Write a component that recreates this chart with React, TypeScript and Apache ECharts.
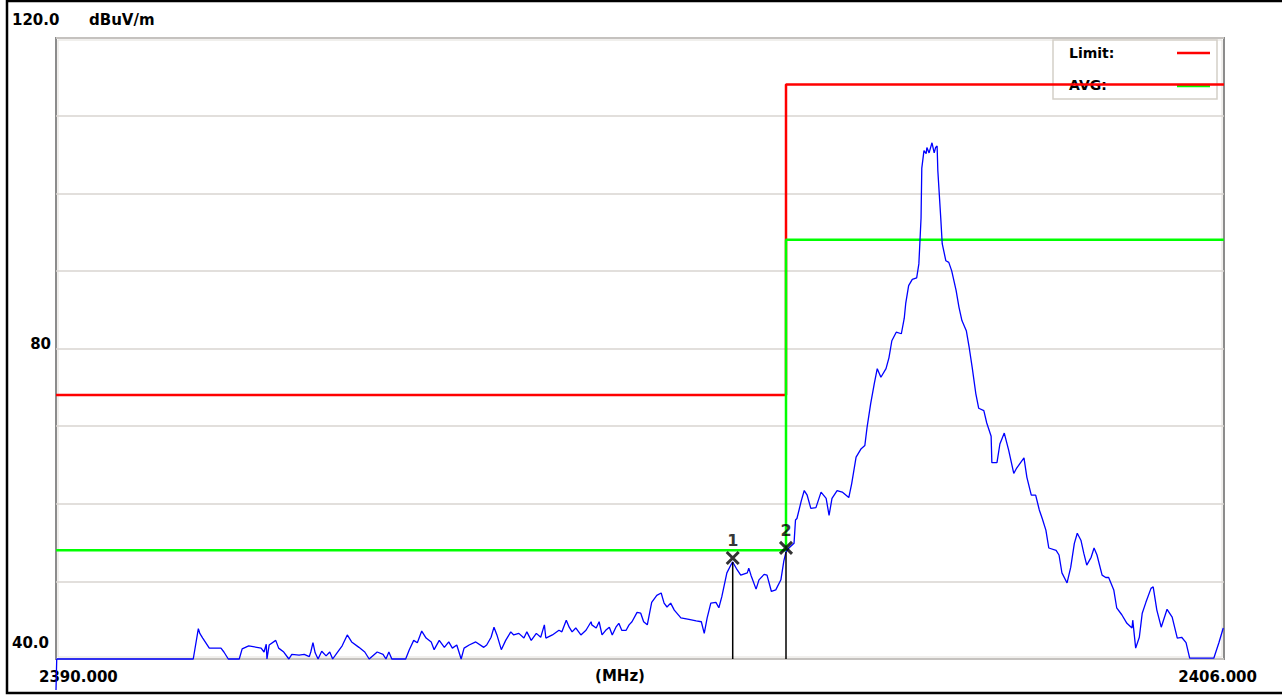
import React, { useEffect, useRef } from "react";
import * as echarts from "echarts";

// Measured trace (frequency in MHz, level in dBuV/m)
const traceFreq = [
  2390.00, 2390.01, 2391.88, 2391.95, 2391.97, 2392.01, 2392.10, 2392.26, 2392.30, 2392.36,
  2392.51, 2392.55, 2392.64, 2392.81, 2392.85, 2392.88, 2392.89, 2392.92, 2393.01, 2393.05,
  2393.12, 2393.19, 2393.23, 2393.33, 2393.40, 2393.47, 2393.49, 2393.52, 2393.55, 2393.59,
  2393.64, 2393.70, 2393.75, 2393.79, 2393.85, 2393.92, 2393.99, 2394.05, 2394.15, 2394.23,
  2394.29, 2394.40, 2394.48, 2394.52, 2394.56, 2394.60, 2394.79, 2394.84, 2394.90, 2394.95,
  2395.01, 2395.07, 2395.14, 2395.18, 2395.25, 2395.32, 2395.38, 2395.43, 2395.49, 2395.55,
  2395.59, 2395.66, 2395.75, 2395.86, 2395.90, 2395.96, 2396.00, 2396.04, 2396.10, 2396.16,
  2396.23, 2396.27, 2396.34, 2396.41, 2396.45, 2396.51, 2396.58, 2396.64, 2396.69, 2396.71,
  2396.80, 2396.89, 2396.93, 2396.99, 2397.03, 2397.07, 2397.12, 2397.19, 2397.26, 2397.33,
  2397.34, 2397.40, 2397.44, 2397.48, 2397.53, 2397.58, 2397.62, 2397.67, 2397.71, 2397.75,
  2397.81, 2397.85, 2397.89, 2397.96, 2398.01, 2398.05, 2398.10, 2398.16, 2398.23, 2398.29,
  2398.33, 2398.37, 2398.42, 2398.47, 2398.56, 2398.67, 2398.77, 2398.84, 2398.88, 2398.92,
  2398.97, 2399.04, 2399.08, 2399.12, 2399.19, 2399.25, 2399.27, 2399.33, 2399.38, 2399.47,
  2399.49, 2399.52, 2399.59, 2399.63, 2399.70, 2399.74, 2399.80, 2399.86, 2399.93, 2399.97,
  2400.00, 2400.04, 2400.11, 2400.13, 2400.15, 2400.21, 2400.25, 2400.29, 2400.34, 2400.41,
  2400.48, 2400.55, 2400.59, 2400.63, 2400.70, 2400.77, 2400.86, 2400.90, 2400.96, 2401.03,
  2401.08, 2401.11, 2401.16, 2401.21, 2401.25, 2401.30, 2401.37, 2401.41, 2401.45, 2401.51,
  2401.58, 2401.62, 2401.64, 2401.68, 2401.73, 2401.79, 2401.82, 2401.85, 2401.86, 2401.89,
  2401.92, 2401.93, 2401.96, 2402.00, 2402.03, 2402.05, 2402.07, 2402.08, 2402.12, 2402.14,
  2402.19, 2402.23, 2402.27, 2402.33, 2402.37, 2402.41, 2402.47, 2402.51, 2402.55, 2402.60,
  2402.64, 2402.71, 2402.75, 2402.81, 2402.82, 2402.89, 2402.93, 2402.99, 2403.05, 2403.12,
  2403.16, 2403.26, 2403.30, 2403.36, 2403.42, 2403.47, 2403.51, 2403.56, 2403.60, 2403.70,
  2403.74, 2403.78, 2403.85, 2403.90, 2403.95, 2403.99, 2404.04, 2404.08, 2404.12, 2404.18,
  2404.22, 2404.26, 2404.33, 2404.38, 2404.42, 2404.49, 2404.53, 2404.60, 2404.67, 2404.74,
  2404.75, 2404.79, 2404.84, 2404.88, 2404.93, 2405.00, 2405.03, 2405.08, 2405.14, 2405.22,
  2405.29, 2405.36, 2405.42, 2405.48, 2405.53, 2405.86, 2405.93, 2405.99,
];
const traceLevel = [
  36.0, 40.0, 40.0, 43.9, 43.3, 42.7, 41.4, 41.4, 40.9, 40.0,
  40.0, 41.3, 41.7, 41.4, 40.9, 41.9, 40.0, 41.8, 42.4, 41.4,
  40.9, 40.0, 40.6, 40.5, 40.6, 40.3, 40.9, 42.1, 40.8, 40.0,
  41.0, 40.4, 40.9, 40.0, 40.8, 41.7, 43.1, 42.2, 41.5, 40.9,
  40.0, 40.9, 40.6, 40.0, 40.9, 40.0, 40.0, 41.2, 42.4, 42.1,
  43.6, 42.7, 42.2, 41.2, 42.4, 41.5, 42.2, 41.4, 41.8, 40.0,
  41.4, 41.8, 42.2, 41.5, 41.8, 42.8, 44.1, 43.1, 41.2, 42.4,
  43.5, 43.1, 43.3, 42.7, 43.5, 42.4, 43.3, 42.8, 44.4, 42.7,
  43.1, 43.7, 43.5, 45.0, 44.1, 43.5, 44.0, 43.1, 43.7, 44.8,
  44.4, 44.0, 44.8, 43.1, 43.7, 44.1, 43.1, 44.1, 44.6, 43.7,
  43.7, 44.4, 44.8, 46.0, 45.9, 44.8, 44.4, 47.3, 48.2, 48.5,
  47.2, 46.7, 47.2, 46.3, 45.3, 45.1, 44.9, 44.8, 43.3, 45.3,
  47.2, 47.3, 46.6, 48.0, 51.1, 52.2, 52.5, 51.5, 50.8, 51.1,
  51.7, 50.8, 49.0, 50.2, 50.9, 50.8, 48.7, 48.9, 50.2, 52.6,
  53.8, 54.3, 54.9, 57.9, 58.1, 60.4, 61.7, 61.1, 59.4, 59.5,
  61.5, 60.7, 58.5, 60.7, 61.7, 61.5, 60.8, 62.6, 66.0, 67.1,
  67.5, 69.8, 72.9, 75.5, 77.4, 76.3, 77.4, 78.8, 81.0, 82.1,
  81.9, 83.9, 85.8, 88.1, 88.9, 89.1, 90.9, 96.8, 103.2, 105.5,
  105.1, 105.9, 105.2, 106.5, 105.2, 105.9, 106.1, 102.9, 96.8, 93.5,
  91.3, 91.1, 90.0, 87.5, 85.3, 83.6, 82.3, 80.1, 77.6, 74.2,
  72.3, 72.0, 70.4, 68.7, 65.3, 65.3, 67.7, 69.1, 66.9, 63.9,
  64.6, 65.9, 63.4, 61.1, 61.1, 59.2, 58.1, 56.6, 54.3, 54.0,
  53.4, 51.1, 49.8, 51.8, 54.9, 56.2, 55.3, 53.6, 52.1, 53.1,
  54.3, 53.4, 50.8, 50.5, 50.5, 48.9, 46.6, 45.7, 44.6, 44.0,
  45.0, 41.4, 42.8, 45.9, 47.3, 49.1, 49.3, 46.3, 44.1, 46.4,
  45.4, 42.7, 42.8, 42.1, 40.1, 40.1, 42.1, 44.0,
];

// Limit lines
const limitFreq = [2390, 2400, 2400, 2406];
const limitLevel = [74, 74, 114, 114];
const avgLevel = [54, 54, 94, 94];

// Markers
const markerFreq = [2399.27, 2400.0];
const markerLevel = [52.5, 53.8];
const markerNames = ["1", "2"];

// Axis texts
const yMin = 40;
const yMax = 120;
const yLabels = ["120.0", "80", "40.0"];
const yUnit = "dBuV/m";
const xLabels = ["2390.000", "(MHz)", "2406.000"];
const legendNames = ["Limit:", "AVG:"];

const FONT = "'DejaVu Sans', sans-serif";

export default function App() {
  const ref = useRef<HTMLDivElement>(null);

  useEffect(() => {
    if (!ref.current) return;
    const chart = echarts.init(ref.current, undefined, { renderer: "svg" });

    const trace = traceFreq.map((f, i) => [f, traceLevel[i]]);
    const limit = limitFreq.map((f, i) => [f, limitLevel[i]]);
    const avg = limitFreq.map((f, i) => [f, avgLevel[i]]);

    const markerLines = markerFreq.map((f, i) => ({
      type: "line",
      data: [
        [f, yMin],
        [f, markerLevel[i]],
      ],
      showSymbol: false,
      symbol: "none",
      lineStyle: { color: "#000", width: 1.5 },
      z: 6,
      silent: true,
    }));

    const textStyle = (size: number) => ({
      fontFamily: FONT,
      fontWeight: "bold",
      fontSize: size,
      fill: "#000",
    });

    chart.setOption({
      animation: false,
      backgroundColor: "#fff",
      grid: {
        left: 56,
        top: 38,
        width: 1168,
        height: 621,
        show: true,
        borderColor: "#8c8c8c",
        borderWidth: 2,
        backgroundColor: "transparent",
      },
      xAxis: {
        type: "value",
        min: 2390,
        max: 2406,
        axisLabel: { show: false },
        axisLine: { show: false },
        axisTick: { show: false },
        splitLine: { show: false },
      },
      yAxis: {
        type: "value",
        min: yMin,
        max: yMax,
        interval: 10,
        axisLabel: { show: false },
        axisLine: { show: false },
        axisTick: { show: false },
        splitLine: { show: true, lineStyle: { color: "#d8d5d0", width: 1.5 } },
      },
      series: [
        {
          type: "line",
          data: limit,
          showSymbol: false,
          symbol: "none",
          lineStyle: { color: "#ff0000", width: 2.5 },
          z: 3,
          silent: true,
        },
        {
          type: "line",
          data: avg,
          showSymbol: false,
          symbol: "none",
          lineStyle: { color: "#00ff00", width: 2.5 },
          z: 4,
          silent: true,
        },
        {
          type: "line",
          data: trace,
          showSymbol: false,
          symbol: "none",
          clip: false,
          lineStyle: { color: "#0000ff", width: 1.3 },
          z: 5,
          silent: true,
        },
        ...markerLines,
        {
          type: "scatter",
          data: markerFreq.map((f, i) => ({
            value: [f, markerLevel[i]],
            label: { formatter: markerNames[i] },
          })),
          symbol: "path://M0,0L10,10M10,0L0,10",
          symbolSize: 12,
          symbolOffset: [0, -4],
          itemStyle: { color: "none", borderColor: "#000", borderWidth: 3 },
          label: {
            show: true,
            position: "top",
            distance: 1,
            color: "#000",
            fontFamily: FONT,
            fontWeight: "bold",
            fontSize: 16,
          },
          z: 7,
          silent: true,
        },
      ],
      graphic: [
        // outer frame
        {
          type: "rect",
          shape: { x: 7, y: 1, width: 1290, height: 692 },
          style: { fill: "none", stroke: "#000", lineWidth: 2.5 },
          silent: true,
        },
        // inner light edge of plot frame
        {
          type: "rect",
          shape: { x: 58, y: 40, width: 1164, height: 617 },
          style: { fill: "none", stroke: "#e2dfda", lineWidth: 1 },
          silent: true,
        },
        // legend box
        {
          type: "rect",
          shape: { x: 1053, y: 40, width: 164, height: 59 },
          style: { fill: "#fff", stroke: "#d4d0c8", lineWidth: 1.5 },
          silent: true,
        },
        {
          type: "text",
          x: 1069,
          y: 53,
          style: { ...textStyle(14), text: legendNames[0], textVerticalAlign: "middle" },
          silent: true,
        },
        {
          type: "text",
          x: 1069,
          y: 85,
          style: { ...textStyle(14), text: legendNames[1], textVerticalAlign: "middle" },
          silent: true,
        },
        {
          type: "line",
          shape: { x1: 1177, y1: 53, x2: 1210, y2: 53 },
          style: { stroke: "#ff0000", lineWidth: 2.5 },
          silent: true,
        },
        {
          type: "line",
          shape: { x1: 1177, y1: 86, x2: 1210, y2: 86 },
          style: { stroke: "#00ff00", lineWidth: 2.5 },
          silent: true,
        },
        // y labels
        {
          type: "text",
          x: 12,
          y: 20,
          style: { ...textStyle(15), text: yLabels[0], textVerticalAlign: "middle" },
          silent: true,
        },
        {
          type: "text",
          x: 89,
          y: 20,
          style: { ...textStyle(15), text: yUnit, textVerticalAlign: "middle" },
          silent: true,
        },
        {
          type: "text",
          x: 51,
          y: 344,
          style: { ...textStyle(15), text: yLabels[1], textAlign: "right", textVerticalAlign: "middle" },
          silent: true,
        },
        {
          type: "text",
          x: 12,
          y: 643,
          style: { ...textStyle(15), text: yLabels[2], textVerticalAlign: "middle" },
          silent: true,
        },
        // x labels
        {
          type: "text",
          x: 39,
          y: 677,
          style: { ...textStyle(15), text: xLabels[0], textVerticalAlign: "middle" },
          silent: true,
        },
        {
          type: "text",
          x: 620,
          y: 676,
          style: { ...textStyle(15), text: xLabels[1], textAlign: "center", textVerticalAlign: "middle" },
          silent: true,
        },
        {
          type: "text",
          x: 1257,
          y: 677,
          style: { ...textStyle(15), text: xLabels[2], textAlign: "right", textVerticalAlign: "middle" },
          silent: true,
        },
      ],
    });

    return () => chart.dispose();
  }, []);

  return (
    <div
      ref={ref}
      style={{ position: "absolute", left: 0, top: 0, width: 1282, height: 695, background: "#fff" }}
    />
  );
}
